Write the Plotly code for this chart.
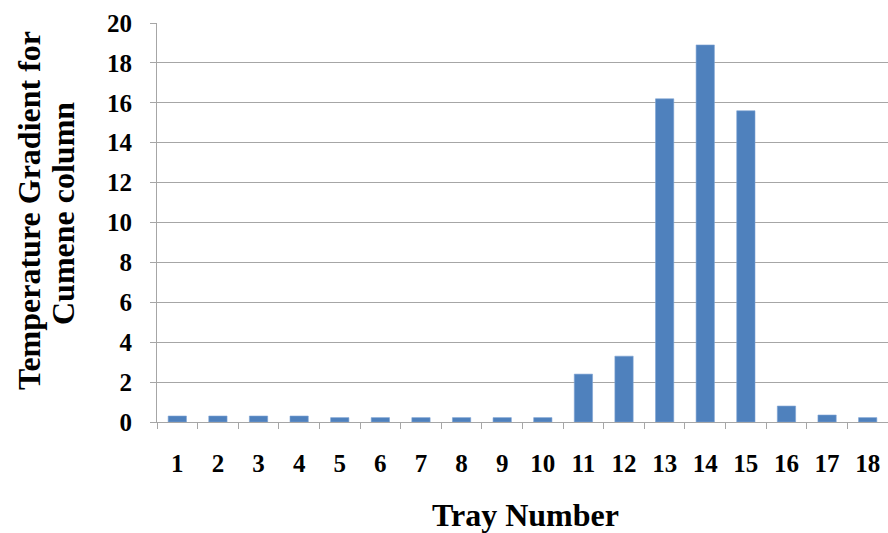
import plotly.graph_objects as go

# Temperature gradient per tray of the cumene column
trays = [str(i) for i in range(1, 19)]
gradient = [0.3, 0.3, 0.3, 0.3, 0.22, 0.22, 0.22, 0.22, 0.22, 0.22,
            2.4, 3.3, 16.2, 18.9, 15.6, 0.8, 0.35, 0.22]
y_ticks = list(range(0, 21, 2))

FONT = "Liberation Serif"
GRID = "#A6A6A6"

# plot area geometry in pixels
L, T, W, H = 157, 23, 731, 399


def px_x(x):
    return (x - L) / W


def px_y(y):
    return (T + H - y) / H


fig = go.Figure(
    go.Bar(
        x=trays,
        y=gradient,
        marker=dict(color="#4F81BD", line=dict(color="#7EA3D3", width=0.6)),
        width=0.45,
    )
)

title_font = dict(family=FONT, size=32, color="black")

fig.update_layout(
    width=888,
    height=533,
    margin=dict(l=L, r=888 - L - W, t=T, b=533 - T - H),
    paper_bgcolor="white",
    plot_bgcolor="white",
    showlegend=False,
    font=dict(family=FONT, color="black"),
    annotations=[
        dict(text="<b>Temperature Gradient for</b>", xref="paper", yref="paper",
             x=px_x(29), y=px_y(211), xanchor="center", yanchor="middle",
             textangle=-90, showarrow=False, font=title_font),
        dict(text="<b>Cumene column</b>", xref="paper", yref="paper",
             x=px_x(63), y=px_y(214), xanchor="center", yanchor="middle",
             textangle=-90, showarrow=False, font=title_font),
        dict(text="<b>Tray Number</b>", xref="paper", yref="paper",
             x=px_x(525), y=px_y(515), xanchor="center", yanchor="middle",
             showarrow=False, font=title_font),
    ],
)

fig.update_xaxes(
    type="category",
    showgrid=False,
    showline=True,
    linecolor=GRID,
    linewidth=1,
    ticks="outside",
    tickson="boundaries",
    ticklen=6,
    tickcolor=GRID,
    ticklabelstandoff=19,
    tickfont=dict(family=FONT, size=25, color="black", weight="bold"),
)

fig.update_yaxes(
    range=[0, 20],
    tickvals=y_ticks,
    showgrid=True,
    gridcolor=GRID,
    gridwidth=1,
    showline=True,
    linecolor=GRID,
    linewidth=1,
    ticks="outside",
    ticklen=6,
    tickcolor=GRID,
    zeroline=False,
    ticklabelstandoff=13,
    tickfont=dict(family=FONT, size=25, color="black", weight="bold"),
)

fig.write_html("out.html")
